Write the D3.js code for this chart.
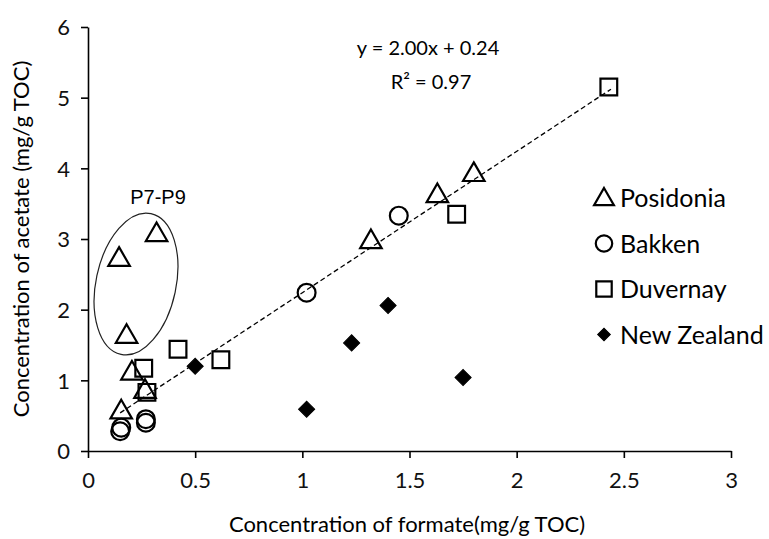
<!DOCTYPE html>
<html>
<head>
<meta charset="utf-8">
<script src="https://cdn.jsdelivr.net/npm/d3@7"></script>
<style>
  body { margin: 0; background: #fff; }
  svg { display: block; }
  .axis text { font-family: Lato, "Open Sans", sans-serif; font-size: 22px; fill: #111; }
  .axis path, .axis line { stroke: #000; stroke-width: 1.6; }
</style>
</head>
<body>
<svg id="chart" width="769" height="539"></svg>
<script>
// data
const posidonia = [[0.155, 0.57], [0.205, 1.12], [0.18, 1.64], [0.145, 2.73], [0.32, 3.08],
                   [0.266, 0.86], [1.32, 2.98], [1.63, 3.63], [1.80, 3.93]];
const bakken = [[0.15, 0.28], [0.155, 0.33], [0.27, 0.40], [0.27, 0.45], [1.02, 2.24], [1.45, 3.33]];
const duvernay = [[0.26, 1.17], [0.275, 0.83], [0.42, 1.44], [0.62, 1.29], [1.72, 3.35], [2.43, 5.15]];
const newZealand = [[0.50, 1.20], [1.02, 0.59], [1.23, 1.53], [1.40, 2.06], [1.75, 1.04]];

const slope = 2.00, intercept = 0.24;
const trendX = [0.15, 2.44];

const xTicks = [0, 0.5, 1, 1.5, 2, 2.5, 3];
const yTicks = [0, 1, 2, 3, 4, 5, 6];

const seriesNames = ["Posidonia", "Bakken", "Duvernay", "New Zealand"];
const seriesData = [posidonia, bakken, duvernay, newZealand];

const svg = d3.select("#chart");

const x = d3.scaleLinear().domain([0, 3]).range([88, 731]);
const y = d3.scaleLinear().domain([0, 6]).range([451, 27]);

// axes
svg.append("g")
    .attr("class", "axis")
    .attr("transform", "translate(0,451)")
    .call(d3.axisBottom(x).tickValues(xTicks).tickSize(7).tickPadding(14).tickSizeOuter(0)
        .tickFormat(d => d))
    .call(g => g.selectAll("text").attr("dy", "0.71em"));

svg.append("g")
    .attr("class", "axis")
    .attr("transform", "translate(88,0)")
    .call(d3.axisLeft(y).tickValues(yTicks).tickSize(7).tickPadding(11).tickSizeOuter(0)
        .tickFormat(d => d))
    .call(g => g.selectAll("text").attr("dy", "0.35em"));

// axis titles
svg.append("text")
    .attr("x", 407).attr("y", 532)
    .attr("text-anchor", "middle")
    .style("font-family", "Lato, 'Open Sans', sans-serif")
    .style("font-size", "22px")
    .text("Concentration of formate(mg/g TOC)");

svg.append("text")
    .attr("transform", "translate(29,239) rotate(-90)")
    .attr("text-anchor", "middle")
    .style("font-family", "Lato, 'Open Sans', sans-serif")
    .style("font-size", "22px")
    .text("Concentration of acetate (mg/g TOC)");

// trend line
svg.append("path")
    .datum(trendX.map(v => [v, slope * v + intercept]))
    .attr("fill", "none")
    .attr("stroke", "#000")
    .attr("stroke-width", 1.3)
    .attr("stroke-dasharray", "5,3")
    .attr("d", d3.line().x(d => x(d[0])).y(d => y(d[1])));

svg.append("text")
    .attr("x", 428).attr("y", 55)
    .attr("text-anchor", "middle")
    .style("font-family", "Lato, 'Open Sans', sans-serif")
    .style("font-size", "20px")
    .text("y = 2.00x + 0.24");

svg.append("text")
    .attr("x", 431).attr("y", 89)
    .attr("text-anchor", "middle")
    .style("font-family", "Lato, 'Open Sans', sans-serif")
    .style("font-size", "20px")
    .text("R² = 0.97");

// P7-P9 ellipse
svg.append("ellipse")
    .attr("cx", 136).attr("cy", 284)
    .attr("rx", 40).attr("ry", 72)
    .attr("transform", "rotate(12,136,284)")
    .attr("fill", "none")
    .attr("stroke", "#222")
    .attr("stroke-width", 1.2);

svg.append("text")
    .attr("x", 158).attr("y", 204)
    .attr("text-anchor", "middle")
    .style("font-family", "'Liberation Sans', Arial, sans-serif")
    .style("font-size", "20px")
    .text("P7-P9");

// markers
const symbols = [
    { type: d3.symbolTriangle, size: 200, fill: "none", rot: 0 },
    { type: d3.symbolCircle, size: 250, fill: "none", rot: 0 },
    { type: d3.symbolSquare, size: 280, fill: "none", rot: 0 },
    { type: d3.symbolSquare, size: 130, fill: "#000", rot: 45 }
];

const drawMark = (sel, i) => {
    sel.attr("d", d3.symbol().type(symbols[i].type).size(symbols[i].size))
        .attr("fill", symbols[i].fill)
        .attr("stroke", "#000")
        .attr("stroke-width", symbols[i].fill === "none" ? 2.2 : 1);
};

seriesData.forEach((data, i) => {
    svg.append("g").selectAll("path")
        .data(data)
        .join("path")
        .attr("transform", d => `translate(${x(d[0])},${y(d[1]) + (i === 0 ? 1.5 : 0)}) rotate(${symbols[i].rot})`)
        .call(drawMark, i);
});

// legend
const legend = svg.append("g");
seriesNames.forEach((name, i) => {
    const ly = 198 + i * 45.5;
    legend.append("path")
        .attr("transform", `translate(604,${ly + (i === 0 ? 1.5 : 0)}) rotate(${symbols[i].rot})`)
        .call(drawMark, i)
        .attr("d", d3.symbol().type(symbols[i].type).size(i === 3 ? 80 : symbols[i].size * 0.85));
    legend.append("text")
        .attr("x", 620).attr("y", ly)
        .attr("dy", "0.36em")
        .style("font-family", "Lato, 'Open Sans', sans-serif")
        .style("font-size", "25px")
        .text(name);
});
</script>
</body>
</html>
